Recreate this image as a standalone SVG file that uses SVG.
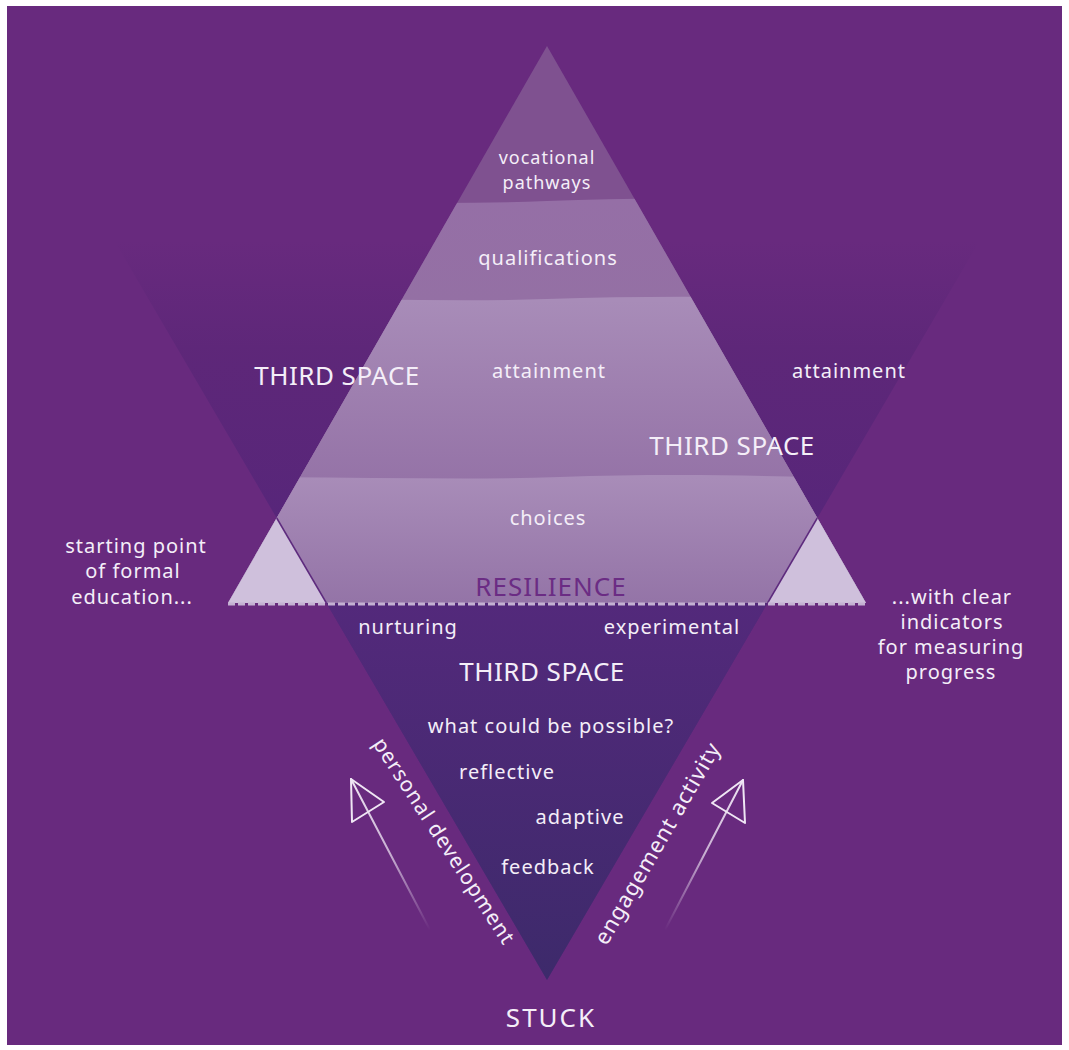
<svg xmlns="http://www.w3.org/2000/svg" width="1069" height="1050" viewBox="0 0 1069 1050">
<style>
.t{font-family:"Noto Sans","DejaVu Sans",sans-serif;fill:#f4eef8;text-anchor:middle}
.s{font-size:20px;letter-spacing:1px}
.c{font-size:26px;letter-spacing:0.5px}
.arr{fill:none;stroke:#efe6f4;stroke-width:2;stroke-linejoin:round;stroke-linecap:round}
</style>
<defs>
<linearGradient id="wedge" gradientUnits="userSpaceOnUse" x1="0" y1="240" x2="0" y2="520">
<stop offset="0" stop-color="#5a2677" stop-opacity="0"/>
<stop offset="0.4" stop-color="#5a2677" stop-opacity="0.75"/>
<stop offset="1" stop-color="#57267a" stop-opacity="1"/>
</linearGradient>
<linearGradient id="lowV" gradientUnits="userSpaceOnUse" x1="0" y1="603" x2="0" y2="980">
<stop offset="0" stop-color="#53297b"/>
<stop offset="1" stop-color="#3d2a6b"/>
</linearGradient>
<linearGradient id="b2" gradientUnits="userSpaceOnUse" x1="0" y1="200" x2="0" y2="302">
<stop offset="0" stop-color="#956fa6"/>
<stop offset="1" stop-color="#9470a4"/>
</linearGradient>
<linearGradient id="b3" gradientUnits="userSpaceOnUse" x1="0" y1="300" x2="0" y2="480">
<stop offset="0" stop-color="#a88cb8"/>
<stop offset="1" stop-color="#9573a7"/>
</linearGradient>
<linearGradient id="b4" gradientUnits="userSpaceOnUse" x1="0" y1="478" x2="0" y2="603">
<stop offset="0" stop-color="#a88cb8"/>
<stop offset="1" stop-color="#9474a7"/>
</linearGradient>
<linearGradient id="fadeL" gradientUnits="userSpaceOnUse" x1="430" y1="930" x2="351" y2="779">
<stop offset="0" stop-color="#efe6f4" stop-opacity="0"/>
<stop offset="0.5" stop-color="#efe6f4" stop-opacity="0.7"/>
<stop offset="1" stop-color="#efe6f4" stop-opacity="1"/>
</linearGradient>
<linearGradient id="fadeR" gradientUnits="userSpaceOnUse" x1="665" y1="930" x2="743" y2="780">
<stop offset="0" stop-color="#efe6f4" stop-opacity="0"/>
<stop offset="0.5" stop-color="#efe6f4" stop-opacity="0.7"/>
<stop offset="1" stop-color="#efe6f4" stop-opacity="1"/>
</linearGradient>
<clipPath id="tri"><polygon points="547,46 228,603 866,603"/></clipPath>
</defs>

<rect x="0" y="0" width="1069" height="1050" fill="#ffffff"/>
<rect id="background" x="7" y="6" width="1055" height="1039" fill="#682a7e"/>

<g id="third-space-wedge">
<polygon points="32,100 1062,100 547,980" fill="url(#wedge)"/>
<polygon points="326.4,603 767.6,603 547,980" fill="url(#lowV)"/>
</g>

<g id="pyramid" clip-path="url(#tri)">
<rect x="200" y="40" width="700" height="570" fill="#7f5190"/>
<path d="M200,203 C300,199 420,206 547,201 S780,199 900,204 L900,610 L200,610 Z" fill="url(#b2)"/>
<path d="M200,300 C320,296 430,303 547,299 S790,297 900,301 L900,610 L200,610 Z" fill="url(#b3)"/>
<path d="M200,478 C320,475 440,481 560,477 S790,476 900,480 L900,610 L200,610 Z" fill="url(#b4)"/>
</g>

<g id="formal-education-triangles">
<polygon points="228,603 276.7,518 326.4,603" fill="#cfc0dc"/>
<polygon points="866,603 817.3,518 767.6,603" fill="#cfc0dc"/>
<line x1="276.7" y1="518" x2="326.4" y2="603" stroke="#5e2b7e" stroke-width="1.5"/>
<line x1="817.3" y1="518" x2="767.6" y2="603" stroke="#5e2b7e" stroke-width="1.5"/>
</g>

<g id="resilience-line">
<line x1="228" y1="604" x2="866" y2="604" stroke="#c4b1d2" stroke-width="3" stroke-dasharray="7 3"/>
</g>

<g id="arrows">
<polygon class="arr" points="351,779 352,822 384,802"/>
<path d="M351,779 L430,930" fill="none" stroke="url(#fadeL)" stroke-width="2" stroke-linecap="round"/>
<polygon class="arr" points="743,780 745,823 712,803"/>
<path d="M743,780 L665,930" fill="none" stroke="url(#fadeR)" stroke-width="2" stroke-linecap="round"/>
</g>

<g id="labels">
<text class="t" x="547" y="164" style="font-size:18px;letter-spacing:1px">vocational</text>
<text class="t" x="547" y="189" style="font-size:18px;letter-spacing:1px">pathways</text>
<text class="t s" x="548" y="265">qualifications</text>
<text class="t s" x="549" y="378">attainment</text>
<text class="t c" x="337" y="385">THIRD SPACE</text>
<text class="t s" x="849" y="378">attainment</text>
<text class="t c" x="732" y="455">THIRD SPACE</text>
<text class="t s" x="548" y="525">choices</text>
<text class="t" x="551" y="596" style="font-size:26px;letter-spacing:1px;fill:#6b2c84">RESILIENCE</text>
<text class="t s" x="408" y="634">nurturing</text>
<text class="t s" x="672" y="634">experimental</text>
<text class="t c" x="542" y="681">THIRD SPACE</text>
<text class="t s" x="551" y="733">what could be possible?</text>
<text class="t s" x="507" y="779">reflective</text>
<text class="t s" x="580" y="824">adaptive</text>
<text class="t s" x="548" y="874">feedback</text>
<text class="t" x="551" y="1027" style="font-size:26px;letter-spacing:2px">STUCK</text>
<text class="t s" x="136" y="553">starting point</text>
<text class="t s" x="133" y="578">of formal</text>
<text class="t s" x="132" y="604">education...</text>
<text class="t s" x="952" y="604">...with clear</text>
<text class="t s" x="952" y="629">indicators</text>
<text class="t s" x="951" y="654">for measuring</text>
<text class="t s" x="951" y="679">progress</text>
<text class="t" transform="translate(438,845) rotate(57)" style="font-size:21px;letter-spacing:1px">personal development</text>
<text class="t" transform="translate(664,847) rotate(-60)" style="font-size:22px;letter-spacing:1px">engagement activity</text>
</g>
</svg>
